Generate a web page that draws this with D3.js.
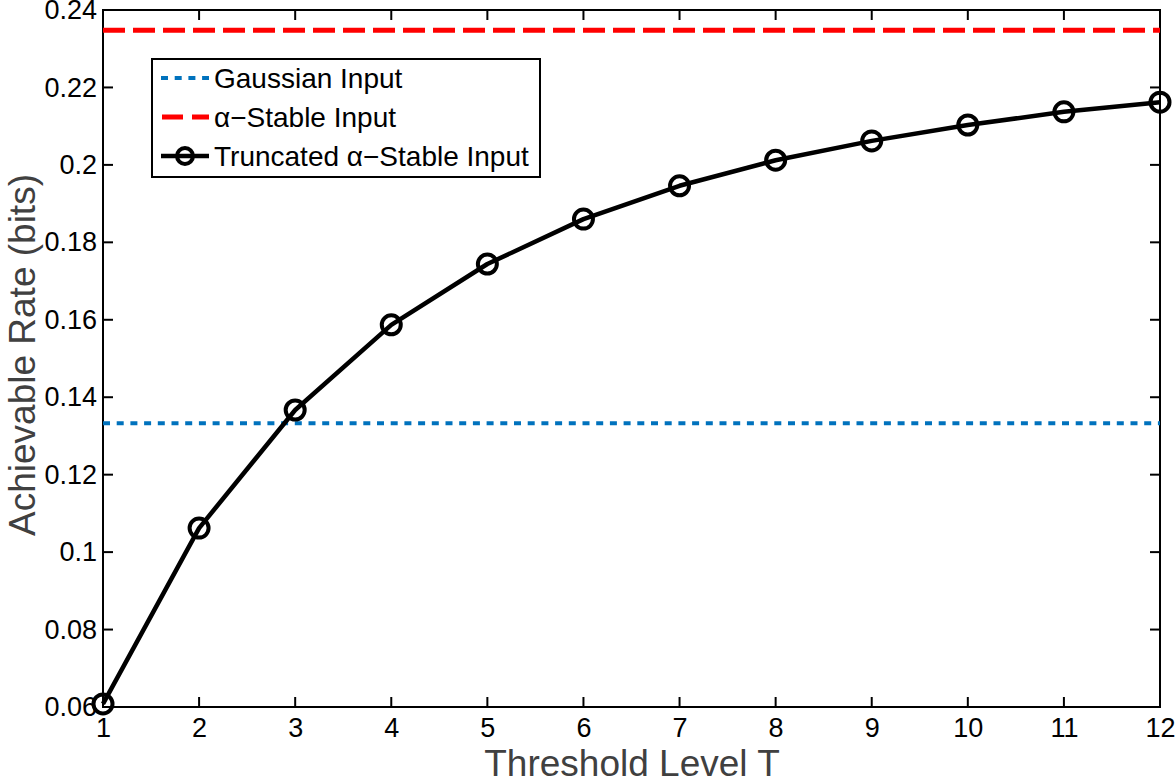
<!DOCTYPE html>
<html>
<head>
<meta charset="utf-8">
<script src="https://cdn.jsdelivr.net/npm/d3@7"></script>
<style>
  html, body { margin: 0; padding: 0; background: #fff; }
  svg { display: block; font-family: "Liberation Sans", Arial, Helvetica, sans-serif; }
</style>
</head>
<body>
<svg id="chart" width="1175" height="781"></svg>
<script>
// ---- data ----
const thresholds = [1, 2, 3, 4, 5, 6, 7, 8, 9, 10, 11, 12];
const truncatedRate = [0.0608, 0.1062, 0.1367, 0.1587, 0.1744, 0.1860, 0.1946, 0.2012, 0.2062, 0.2103, 0.2137, 0.2162];
const gaussianRate = 0.1333;
const stableRate = 0.2348;
const xTicks = [1, 2, 3, 4, 5, 6, 7, 8, 9, 10, 11, 12];
const yTicks = [0.06, 0.08, 0.10, 0.12, 0.14, 0.16, 0.18, 0.20, 0.22, 0.24];
const yTickLabels = ["0.06", "0.08", "0.1", "0.12", "0.14", "0.16", "0.18", "0.2", "0.22", "0.24"];
const legendLabels = ["Gaussian Input", "\u03B1\u2212Stable Input", "Truncated \u03B1\u2212Stable Input"];

// ---- layout ----
const svg = d3.select("#chart");
const L = 103, R = 1160, T = 10, B = 707;
const x = d3.scaleLinear().domain([1, 12]).range([L, R]);
const y = d3.scaleLinear().domain([0.06, 0.24]).range([B, T]);

const blue = "#0072BD", red = "#FF0000";
const FONT = "'Liberation Sans', Arial, Helvetica, sans-serif";

// frame
svg.append("rect").attr("x", L).attr("y", T).attr("width", R - L).attr("height", B - T)
  .attr("fill", "none").attr("stroke", "#000").attr("stroke-width", 2);

// axes with inner ticks
const tickLen = 10;
const bottomAxis = d3.axisBottom(x).tickValues(xTicks).tickSize(0).tickPadding(11).tickFormat(d3.format("d"));
const gx = svg.append("g").attr("transform", `translate(0,${B})`).call(bottomAxis);
gx.select(".domain").remove();
gx.selectAll("text").attr("font-size", 27).attr("fill", "#000").attr("font-family", FONT);

const leftAxis = d3.axisLeft(y).tickValues(yTicks).tickSize(0).tickPadding(6)
  .tickFormat((d, i) => yTickLabels[i]);
const gy = svg.append("g").attr("transform", `translate(${L},0)`).call(leftAxis);
gy.select(".domain").remove();
gy.selectAll("text").attr("font-size", 27).attr("fill", "#000").attr("font-family", FONT);

// tick marks inside on all four sides
const tk = svg.append("g").attr("stroke", "#000").attr("stroke-width", 2);
xTicks.slice(1, -1).forEach(v => {
  tk.append("line").attr("x1", x(v)).attr("x2", x(v)).attr("y1", B).attr("y2", B - tickLen);
  tk.append("line").attr("x1", x(v)).attr("x2", x(v)).attr("y1", T).attr("y2", T + tickLen);
});
yTicks.slice(1, -1).forEach(v => {
  tk.append("line").attr("x1", L).attr("x2", L + tickLen).attr("y1", y(v)).attr("y2", y(v));
  tk.append("line").attr("x1", R).attr("x2", R - tickLen).attr("y1", y(v)).attr("y2", y(v));
});

// reference lines
svg.append("line").attr("x1", x(1)).attr("x2", x(12)).attr("y1", y(gaussianRate)).attr("y2", y(gaussianRate))
  .attr("stroke", blue).attr("stroke-width", 4).attr("stroke-dasharray", "7,6.7");
svg.append("line").attr("x1", x(1)).attr("x2", x(12)).attr("y1", y(stableRate)).attr("y2", y(stableRate))
  .attr("stroke", red).attr("stroke-width", 5).attr("stroke-dasharray", "22,8");

// truncated curve
const line = d3.line().x((d, i) => x(thresholds[i])).y(d => y(d));
svg.append("path").datum(truncatedRate).attr("d", line)
  .attr("fill", "none").attr("stroke", "#000").attr("stroke-width", 4.5).attr("stroke-linejoin", "round");
svg.append("g").selectAll("circle").data(truncatedRate).join("circle")
  .attr("cx", (d, i) => x(thresholds[i])).attr("cy", d => y(d)).attr("r", 9.5)
  .attr("fill", "none").attr("stroke", "#000").attr("stroke-width", 4);

// axis titles
svg.append("text").attr("x", 632).attr("y", 776).attr("text-anchor", "middle")
  .attr("font-size", 37).attr("fill", "#404040").attr("font-family", FONT).text("Threshold Level T");
svg.append("text").attr("transform", `translate(35,355) rotate(-90)`).attr("text-anchor", "middle")
  .attr("font-size", 37).attr("fill", "#404040").attr("font-family", FONT).text("Achievable Rate (bits)");

// legend
const lg = svg.append("g");
lg.append("rect").attr("x", 152).attr("y", 59).attr("width", 388).attr("height", 118)
  .attr("fill", "#fff").attr("stroke", "#000").attr("stroke-width", 2);
const rows = [78, 117, 156];
const lx1 = 161, lx2 = 209;
lg.append("line").attr("x1", lx1).attr("x2", lx2).attr("y1", rows[0]).attr("y2", rows[0])
  .attr("stroke", blue).attr("stroke-width", 4).attr("stroke-dasharray", "7,6.7");
lg.append("line").attr("x1", lx1 + 1).attr("x2", lx2).attr("y1", rows[1]).attr("y2", rows[1])
  .attr("stroke", red).attr("stroke-width", 5).attr("stroke-dasharray", "21,9");
lg.append("line").attr("x1", lx1).attr("x2", lx2).attr("y1", rows[2]).attr("y2", rows[2])
  .attr("stroke", "#000").attr("stroke-width", 4.5);
lg.append("circle").attr("cx", (lx1 + lx2) / 2).attr("cy", rows[2]).attr("r", 8)
  .attr("fill", "none").attr("stroke", "#000").attr("stroke-width", 4);
legendLabels.forEach((t, i) => {
  lg.append("text").attr("x", 214).attr("y", rows[i] + 10).attr("font-size", 28)
    .attr("fill", "#000").attr("font-family", FONT).text(t);
});
</script>
</body>
</html>
